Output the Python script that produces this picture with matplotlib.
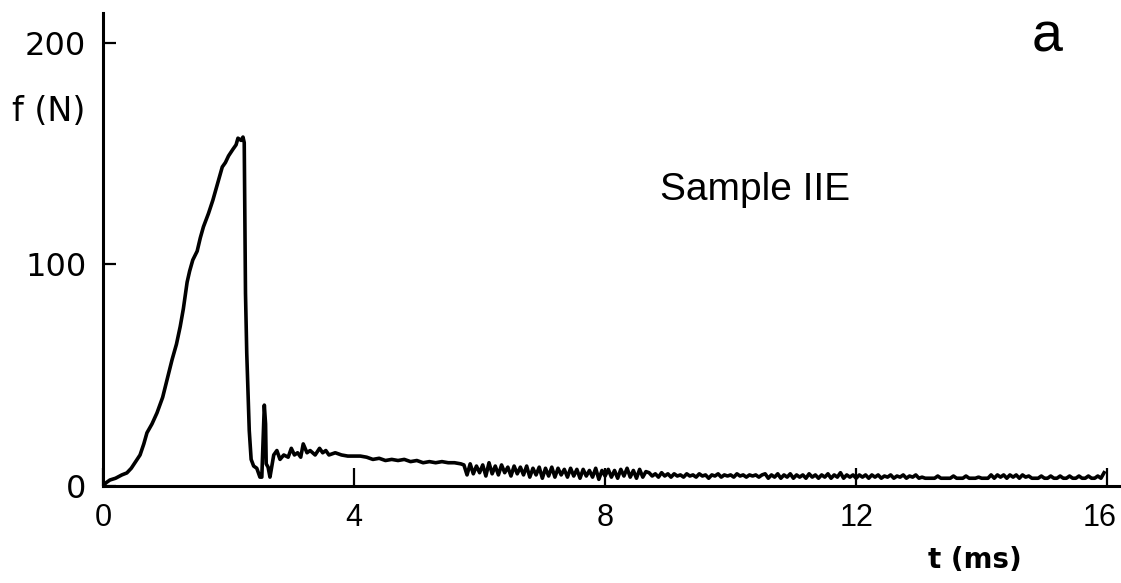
import matplotlib
matplotlib.use("Agg")
import matplotlib.pyplot as plt
import matplotlib.transforms as mtransforms
import numpy as np

# loading pulse: rise to the peak, fracture drop and first rebounds
tiempo_pulso = [0.0, 0.05, 0.11, 0.2, 0.3, 0.38, 0.45, 0.52, 0.59, 0.65,
                0.7, 0.78, 0.86, 0.95, 1.02, 1.1, 1.17, 1.23, 1.28, 1.34,
                1.38, 1.43, 1.5, 1.55, 1.6, 1.68, 1.75, 1.82, 1.9, 1.95,
                2.0, 2.07, 2.12, 2.15, 2.2, 2.23,
                2.25, 2.26, 2.27, 2.29, 2.31, 2.33, 2.36, 2.4, 2.45, 2.5,
                2.53, 2.55, 2.57, 2.59, 2.6, 2.63, 2.66, 2.69, 2.72, 2.77]
fuerza_pulso = [0.0, 1.5, 2.7, 3.5, 5.0, 5.9, 8.0, 11.0, 14.0, 19.0,
                24.0, 28.0, 33.0, 40.0, 48.0, 57.0, 64.0, 72.0, 80.0, 92.0,
                97.0, 102.0, 106.0, 112.0, 117.0, 123.0, 129.0, 136.0, 144.0, 146.0,
                149.0, 152.0, 154.0, 157.0, 156.0, 157.5,
                155.0, 120.0, 87.0, 60.0, 42.0, 25.0, 12.0, 9.0, 8.0, 4.0,
                4.0, 20.0, 36.5, 28.0, 10.0, 8.5, 4.0, 9.0, 14.0, 16.0]

# residual friction plateau
tiempo_meseta = [2.82, 2.88, 2.95, 3.0, 3.05, 3.1, 3.15, 3.19, 3.25, 3.3,
                 3.38, 3.45, 3.5, 3.55, 3.6, 3.7, 3.8, 3.9, 4.0, 4.1,
                 4.2, 4.3, 4.4, 4.5, 4.6, 4.7, 4.8, 4.9, 5.0, 5.1,
                 5.2, 5.3, 5.4, 5.5, 5.6, 5.7]
fuerza_meseta = [12.0, 14.0, 13.0, 17.0, 14.0, 15.0, 13.0, 19.0, 15.0, 16.0,
                 14.0, 17.0, 15.0, 16.0, 14.0, 15.0, 14.0, 13.5, 13.5, 13.5,
                 13.0, 12.0, 12.5, 11.5, 12.0, 11.5, 12.0, 11.0, 11.5, 10.5,
                 11.0, 10.5, 11.0, 10.5, 10.5, 10.0]

# noisy tail, sampled every 0.05 ms from 5.75 to 15.95 ms
fuerza_cola = [
    9.5, 5.0, 10.0, 5.5, 9.0, 6.0, 9.5, 4.5, 10.5, 5.5,
    9.0, 5.0, 9.5, 6.0, 8.5, 4.5, 9.0, 5.5, 8.5, 5.0,
    9.0, 4.0, 8.0, 5.0, 8.5, 3.5, 8.0, 4.5, 8.5, 4.0,
    8.0, 5.0, 7.5, 4.0, 8.0, 4.5, 7.5, 3.5, 7.5, 4.5,
    7.0, 4.0, 8.0, 3.0, 7.0, 4.5, 7.5, 4.0, 7.0, 3.5,
    7.5, 4.5, 8.0, 4.0, 7.0, 3.5, 7.5, 4.0, 6.5,
    6.0, 4.5, 5.5, 4.0, 6.0, 4.5, 5.5, 4.0, 5.5, 4.5,
    5.0, 4.0, 5.5, 4.5, 5.0, 4.0, 5.5, 4.5, 5.0, 3.5,
    5.0, 4.5, 5.5, 4.0, 5.0, 4.5, 5.0, 4.0, 5.5, 4.5,
    5.0, 4.0, 5.0, 4.5, 5.0, 4.0, 5.0,
    5.5, 3.5, 5.0, 4.0, 5.5, 3.5, 5.0, 4.0, 5.5, 3.5,
    5.0, 4.0, 5.0, 3.5, 5.5, 4.0, 5.0, 3.5, 5.0, 4.0,
    5.5, 3.5, 5.0, 4.0, 6.0, 3.5, 5.0, 4.0, 5.0, 3.5,
    5.0, 4.0, 5.0, 3.5, 5.0, 4.0, 5.0, 3.5, 4.5, 4.0,
    5.0, 3.5, 4.5, 4.0, 5.0, 3.5, 4.5, 4.0, 5.0, 3.5,
    4.0, 3.5, 3.5, 3.5, 3.5, 4.5, 3.5, 3.5, 3.5, 3.5,
    4.5, 3.5, 3.5, 3.5, 4.5, 3.5, 3.5, 3.5, 4.0, 3.5,
    3.5, 3.5, 5.0, 3.5, 5.0, 4.0, 5.0, 3.5, 5.0, 4.0,
    5.0, 3.5, 5.0, 4.0, 4.5, 3.5, 3.5, 3.5, 4.5, 3.5,
    3.5, 4.5, 3.5, 3.5, 4.5, 3.5, 3.5, 4.5, 3.5, 3.5,
    4.5, 3.5, 3.5, 4.5, 3.5, 3.5, 4.5, 3.5, 6.0,
]
tiempo_cola = np.linspace(5.75, 15.95, len(fuerza_cola))

ticks_x = [0, 4, 8, 12, 16]
ticks_y = [0, 100, 200]

tiempo = np.concatenate([tiempo_pulso, tiempo_meseta, tiempo_cola])
fuerza = np.concatenate([fuerza_pulso, fuerza_meseta, fuerza_cola])

fig = plt.figure(figsize=(11.21, 5.83), dpi=100)
ax = fig.add_axes([0.0919, 0.1664, 0.907, 0.8113])

ax.plot(tiempo, fuerza, color="black", linewidth=2.6)

ax.set_xlim(0, 16.2)
ax.set_ylim(0, 213.5)

for lado in ["top", "right"]:
    ax.spines[lado].set_visible(False)
for lado in ["left", "bottom"]:
    ax.spines[lado].set_linewidth(2.2)
    ax.spines[lado].set_color("black")

ax.set_xticks(ticks_x)
ax.set_yticks(ticks_y)
ax.set_xticklabels([str(v) for v in ticks_x], fontfamily="Liberation Sans", fontsize=22)
ax.set_yticklabels([str(v) for v in ticks_y], fontfamily="DejaVu Sans", fontsize=23)
ax.tick_params(axis="x", direction="in", length=13, width=1.6, pad=12)
ax.tick_params(axis="y", direction="in", length=9, width=1.6, pad=12)

# el ultimo rotulo del eje x queda pegado al borde, se corre un poco
ultimo = ax.get_xticklabels()[-1]
ultimo.set_transform(ultimo.get_transform()
                     + mtransforms.ScaledTranslation(-8 / 100, 0, fig.dpi_scale_trans))

fig.text(0.0437, 0.808, "f (N)", fontsize=24, ha="center", va="center",
         fontfamily="DejaVu Sans")
fig.text(0.870, 0.0395, "t (ms)", fontsize=20, ha="center", va="center",
         fontfamily="DejaVu Sans", fontweight="bold")
fig.text(0.934, 0.935, "a", fontsize=40, ha="center", va="center",
         fontfamily="Liberation Sans")
fig.text(0.589, 0.657, "Sample IIE", fontsize=28, ha="left", va="baseline",
         fontfamily="Liberation Sans")

plt.savefig("out.png", dpi=100)
